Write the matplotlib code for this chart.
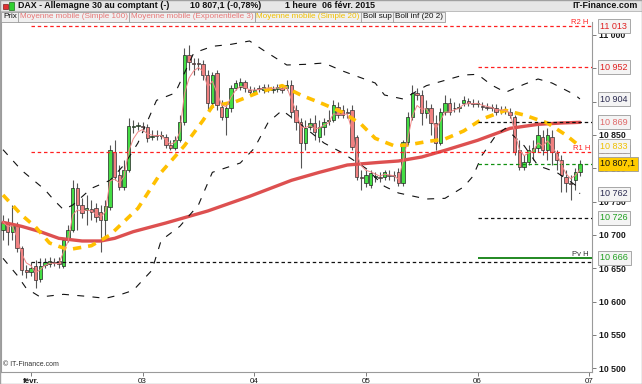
import numpy as np
import pandas as pd
import matplotlib
matplotlib.use('Agg')
import matplotlib.pyplot as plt
from matplotlib.patches import Rectangle
from matplotlib.transforms import blended_transform_factory

# bougies horaires (30 janv. soir -> 06 févr. 2015)
opens = [10707, 10720, 10705, 10715, 10680, 10648, 10644, 10653, 10634, 10655,
         10656, 10660, 10661, 10653, 10692, 10707, 10770, 10745, 10737, 10739,
         10740, 10734, 10722, 10742, 10824, 10790, 10772, 10797, 10862, 10863,
         10863, 10862, 10847, 10850, 10848, 10847, 10835, 10830, 10842, 10869,
         10970, 10958, 10958, 10956, 10940, 10898, 10943, 10892, 10877, 10890,
         10920, 10922, 10929, 10917, 10914, 10920, 10917, 10920, 10917, 10919,
         10920, 10920, 10925, 10887, 10869, 10838, 10862, 10868, 10847, 10862,
         10871, 10872, 10892, 10887, 10884, 10887, 10847, 10787, 10778, 10775,
         10787, 10787, 10787, 10790, 10790, 10794, 10778, 10839, 10877, 10913,
         10910, 10883, 10890, 10868, 10838, 10884, 10898, 10890, 10890, 10898,
         10901, 10898, 10896, 10893, 10892, 10892, 10890, 10887, 10887, 10884,
         10877, 10827, 10802, 10810, 10824, 10830, 10847, 10827, 10847, 10823,
         10812, 10787, 10778, 10782, 10794]
closes = [10720, 10705, 10715, 10680, 10648, 10644, 10650, 10632, 10653, 10660,
          10661, 10658, 10656, 10692, 10707, 10770, 10745, 10733, 10740, 10734,
          10727, 10722, 10743, 10827, 10787, 10772, 10797, 10863, 10863, 10865,
          10862, 10845, 10848, 10848, 10850, 10835, 10830, 10842, 10869, 10970,
          10959, 10957, 10956, 10940, 10898, 10940, 10895, 10877, 10890, 10920,
          10928, 10929, 10920, 10914, 10917, 10919, 10922, 10921, 10919, 10922,
          10917, 10925, 10884, 10869, 10838, 10860, 10868, 10854, 10862, 10869,
          10872, 10895, 10880, 10880, 10883, 10832, 10787, 10786, 10790, 10793,
          10788, 10785, 10794, 10789, 10788, 10778, 10839, 10877, 10913, 10910,
          10883, 10890, 10868, 10838, 10884, 10898, 10884, 10891, 10892, 10902,
          10898, 10897, 10898, 10892, 10891, 10890, 10884, 10888, 10886, 10880,
          10824, 10802, 10810, 10827, 10830, 10850, 10827, 10850, 10824, 10812,
          10790, 10778, 10777, 10794, 10807.1]
highs = [10730, 10726, 10745, 10720, 10683, 10655, 10660, 10662, 10665, 10665,
         10667, 10665, 10667, 10695, 10715, 10782, 10778, 10755, 10760, 10752,
         10748, 10745, 10752, 10835, 10842, 10805, 10812, 10875, 10872, 10869,
         10869, 10866, 10857, 10857, 10856, 10851, 10842, 10848, 10880, 10980,
         10985, 10965, 10965, 10962, 10947, 10944, 10947, 10902, 10899, 10925,
         10932, 10935, 10932, 10923, 10922, 10925, 10926, 10926, 10923, 10926,
         10925, 10932, 10932, 10895, 10875, 10872, 10875, 10880, 10872, 10875,
         10887, 10902, 10899, 10895, 10890, 10895, 10850, 10797, 10797, 10797,
         10794, 10794, 10797, 10797, 10796, 10800, 10842, 10884, 10925, 10920,
         10917, 10902, 10896, 10880, 10890, 10910, 10905, 10899, 10898, 10908,
         10905, 10904, 10902, 10899, 10898, 10896, 10896, 10893, 10893, 10890,
         10880, 10842, 10820, 10835, 10842, 10865, 10857, 10860, 10857, 10827,
         10820, 10797, 10790, 10800, 10812]
lows = [10692, 10685, 10692, 10674, 10640, 10635, 10638, 10620, 10630, 10650,
        10652, 10653, 10650, 10650, 10690, 10704, 10707, 10725, 10715, 10722,
        10720, 10674, 10692, 10737, 10782, 10767, 10767, 10794, 10853, 10857,
        10857, 10839, 10842, 10842, 10844, 10830, 10827, 10827, 10839, 10865,
        10947, 10940, 10947, 10932, 10887, 10890, 10887, 10872, 10850, 10884,
        10917, 10917, 10914, 10910, 10910, 10914, 10913, 10914, 10913, 10914,
        10913, 10917, 10875, 10857, 10800, 10827, 10857, 10842, 10839, 10850,
        10865, 10869, 10875, 10875, 10875, 10827, 10782, 10767, 10772, 10770,
        10779, 10779, 10782, 10782, 10781, 10773, 10773, 10835, 10872, 10902,
        10865, 10875, 10850, 10827, 10835, 10880, 10880, 10884, 10884, 10893,
        10893, 10892, 10892, 10887, 10887, 10886, 10880, 10881, 10881, 10875,
        10820, 10797, 10797, 10805, 10812, 10824, 10820, 10812, 10805, 10797,
        10764, 10764, 10752, 10767, 10788]

# indicateurs : (indice de bougie, valeur)
sma100_idx = [0, 4, 8, 12, 17, 21, 24, 28, 35, 44, 53, 62, 68, 74, 81, 85, 90, 95, 102, 109, 115, 120, 124]
sma100_val = [10719, 10713, 10705, 10695, 10691, 10691, 10695, 10705, 10718, 10736, 10758, 10782,
              10794, 10805, 10809, 10811, 10817, 10827, 10842, 10860, 10866, 10868, 10869]
sma20_idx = [0, 2, 4, 7, 10, 14, 19, 23, 29, 34, 39, 43, 45, 50, 55, 60, 64, 69, 73, 77, 80, 84,
             87, 91, 95, 99, 103, 108, 112, 117, 121, 124]
sma20_val = [10760, 10745, 10730, 10712, 10688, 10678, 10684, 10700, 10740, 10794, 10834, 10872,
             10893, 10900, 10914, 10924, 10910, 10896, 10884, 10866, 10845, 10834, 10835, 10840,
             10844, 10856, 10874, 10887, 10880, 10868, 10850, 10833]
boll_sup_idx = [0, 4, 9, 11, 13, 15, 19, 23, 26, 29, 33, 37, 41, 45, 49, 53, 56, 61, 65, 69, 73,
                80, 82, 86, 91, 95, 99, 102, 105, 108, 112, 115, 118, 123, 124]
boll_sup_val = [10828, 10797, 10768, 10752, 10738, 10745, 10770, 10782, 10805, 10838, 10902, 10913,
                10973, 10983, 10986, 10991, 10977, 10955, 10956, 10958, 10946, 10928, 10910, 10904,
                10924, 10932, 10940, 10941, 10925, 10914, 10926, 10934, 10928, 10910, 10904]
boll_inf_idx = [0, 3, 5, 8, 13, 18, 22, 25, 28, 32, 34, 38, 42, 45, 51, 54, 57, 60, 64, 69, 73,
                78, 82, 85, 91, 95, 99, 101, 103, 106, 108, 112, 115, 119, 123, 124]
boll_inf_val = [10665, 10640, 10620, 10607, 10611, 10608, 10605, 10610, 10617, 10647, 10692, 10713,
                10745, 10794, 10808, 10830, 10869, 10887, 10866, 10838, 10823, 10800, 10773, 10763,
                10754, 10755, 10772, 10788, 10820, 10850, 10860, 10834, 10804, 10794, 10775, 10762]

day_labels = ['févr.', '03', '04', '05', '06', '07']
first_day_bar = 6
bars_per_day = 24

week_levels = [11013, 10825, 10660]           # R2 H, R1 H, niveau noir
friday_levels = [10952, 10869, 10807.1, 10726, 10666]

title = 'DAX - Allemagne 30 au comptant (-)'
quote = '10 807,1 (-0,78%)'
period = '1 heure'
date_txt = '06 févr. 2015'
legend_items = ['Prix', 'Moyenne mobile (Simple 100)', 'Moyenne mobile (Exponentielle 3)',
                'Moyenne mobile (Simple 20)', 'Boll sup', 'Boll inf (20 2)']


def fmt(v):
    s = f'{v:,.1f}' if v % 1 else f'{v:,.0f}'
    return s.replace(',', ' ').replace('.', ',')


plt.rcParams['font.family'] = ['Liberation Sans', 'DejaVu Sans']
plt.rcParams['lines.scale_dashes'] = False

W, H = 642, 384
fig = plt.figure(figsize=(W / 100, H / 100), dpi=100, facecolor='white')
ax = fig.add_axes([1 / W, 12 / H, 591 / W, 350 / H])
ax.set_facecolor('white')

n = len(closes)
idx = np.arange(n)
o, c = np.array(opens, float), np.array(closes, float)
h, l = np.array(highs, float), np.array(lows, float)
up = c >= o

# bougies
ax.vlines(idx, l, h, color='#555555', lw=0.8, zorder=2)
body_lo = np.minimum(o, c)
body_h = np.maximum(np.abs(c - o), 0.9)
ax.bar(idx[up], body_h[up], bottom=body_lo[up], width=0.72, color='#44dd44',
       edgecolor='#222222', lw=0.5, zorder=3)
ax.bar(idx[~up], body_h[~up], bottom=body_lo[~up], width=0.72, color='#f08080',
       edgecolor='#333333', lw=0.5, zorder=3)

# moyennes et bandes
ax.plot(sma100_idx, sma100_val, color='#dd5050', lw=2.4, zorder=4, solid_capstyle='round')
ema3 = pd.Series(closes).ewm(span=3, adjust=False).mean()
ax.plot(idx, ema3, color='#f08888', lw=0.7, zorder=5)
ax.plot(sma20_idx, sma20_val, color='#ffc000', lw=2.6, ls=(0, (6, 5)), zorder=4)
ax.plot(boll_sup_idx, boll_sup_val, color='#111111', lw=0.8, ls=(0, (5, 6)), zorder=4)
ax.plot(boll_inf_idx, boll_inf_val, color='#111111', lw=0.8, ls=(0, (5, 6)), zorder=4)

# niveaux horizontaux
day_pos = [first_day_bar + k * bars_per_day for k in range(len(day_labels))]
x_end = 126.6
week_colors = ['#ff2020', '#ff2020', '#111111']
for v, col in zip(week_levels, week_colors):
    ax.hlines(v, day_pos[0], x_end, color=col, lw=0.9, ls=(0, (2.5, 2)), zorder=4)
fri_colors = ['#ff2020', '#111111', '#109010', '#111111', '#108010']
fri_styles = [(0, (2.5, 2)), (0, (2.5, 2)), (0, (2.5, 2)), (0, (2.5, 2)), '-']
fri_lw = [0.9, 0.9, 0.9, 0.9, 1.3]
for v, col, st, lw in zip(friday_levels, fri_colors, fri_styles, fri_lw):
    ax.hlines(v, day_pos[4], x_end, color=col, lw=lw, ls=st, zorder=4)
ax.text(x_end - 0.8, week_levels[0], 'R2 H', ha='right', va='bottom', fontsize=5.5,
        color='#ff2020', clip_on=False, zorder=6)
ax.text(x_end - 0.3, week_levels[1], 'R1 H', ha='right', va='bottom', fontsize=5.5,
        color='#ff2020', zorder=6)
ax.text(x_end - 0.8, friday_levels[4], 'Pv H', ha='right', va='bottom', fontsize=5.5,
        color='#303030', zorder=6)

ax.set_xlim(-0.43, x_end)
ax.set_ylim(10494.5, 11019.5)

# axe des prix à droite
ax.yaxis.tick_right()
yt = np.arange(10500, 11001, 50)
ax.set_yticks(yt)
ax.set_yticklabels([fmt(v) for v in yt])
ax.tick_params(axis='y', length=3, width=0.6, color='#666666', pad=2, labelsize=6.3,
               labelcolor='#1a1a1a')
for t in ax.get_yticklabels():
    t.set_fontweight('bold')

ax.set_xticks(day_pos)
ax.set_xticklabels(day_labels)
ax.tick_params(axis='x', length=3, width=0.6, color='#666666', pad=1, labelsize=5.8,
               labelcolor='#1a1a1a')
ax.get_xticklabels()[0].set_fontweight('bold')
for side in ['left', 'right', 'bottom']:
    ax.spines[side].set_color('#9a9a9a')
    ax.spines[side].set_linewidth(0.8)
ax.spines['top'].set_visible(False)

# étiquettes de valeurs à droite
trans = blended_transform_factory(ax.transAxes, ax.transData)
tags = [(week_levels[0], '#e02020', '#f4f4f4'),
        (friday_levels[0], '#e02020', '#f4f4f4'),
        (boll_sup_val[-1], '#2a2a50', '#f4f4f4'),
        (sma100_val[-1], '#e06a6a', '#f4f4f4'),
        (week_levels[1], '#e02020', '#f4f4f4'),
        (sma20_val[-1], '#f0c000', '#f4f4f4'),
        (closes[-1], '#111111', '#ffcc00'),
        (boll_inf_val[-1], '#2a2a50', '#f4f4f4'),
        (friday_levels[3], '#20a020', '#f4f4f4'),
        (friday_levels[4], '#20a020', '#f4f4f4')]
for v, col, fc in tags:
    ax.text(1.014, v, fmt(v), transform=trans, ha='left', va='center', fontsize=6.5,
            color=col, clip_on=False, zorder=10,
            bbox=dict(boxstyle='square,pad=0.28', fc=fc, ec='#9a9a9a', lw=0.6))

ax.text(0.004, 0.012, '© IT-Finance.com', transform=ax.transAxes, fontsize=5,
        color='#333333', va='bottom')

# bandeau titre
fig.add_artist(Rectangle((0, 1 - 11 / H), 1, 11 / H, transform=fig.transFigure,
                         fc='#e6e6e6', ec='#b4b4b4', lw=0.6))
fig.add_artist(Rectangle((3 / W, 1 - 9 / H), 5 / W, 5 / H, transform=fig.transFigure,
                         fc='#e03030', ec='#600000', lw=0.4))
fig.add_artist(Rectangle((9 / W, 1 - 10 / H), 5 / W, 8 / H, transform=fig.transFigure,
                         fc='#30d030', ec='#005000', lw=0.4))
ty = 1 - 5.5 / H
hdr = dict(fontsize=6.4, fontweight='bold', color='#111111', va='center')
fig.text(18 / W, ty, title, **hdr)
fig.text(190 / W, ty, quote, **hdr)
fig.text(285 / W, ty, period, **hdr)
fig.text(322 / W, ty, date_txt, **hdr)
fig.text(638 / W, ty, 'IT-Finance.com', ha='right', **hdr)

# légende
leg_colors = ['#111111', '#e87878', '#e87878', '#f0c000', '#111111', '#111111']
renderer = fig.canvas.get_renderer()
x = 3
for lab, col in zip(legend_items, leg_colors):
    t = fig.text(x / W, 1 - 17 / H, lab, fontsize=5.9, color=col, va='center', ha='left',
                 bbox=dict(boxstyle='square,pad=0.22', fc='#f0f0f0', ec='#9a9a9a', lw=0.6))
    x = t.get_window_extent(renderer).x1 + 3

fig.add_artist(Rectangle((0, 0), 1, 1, transform=fig.transFigure, fill=False,
                         ec='#a0a0a0', lw=1.0))

fig.savefig('out.png', dpi=100, facecolor=fig.get_facecolor())
